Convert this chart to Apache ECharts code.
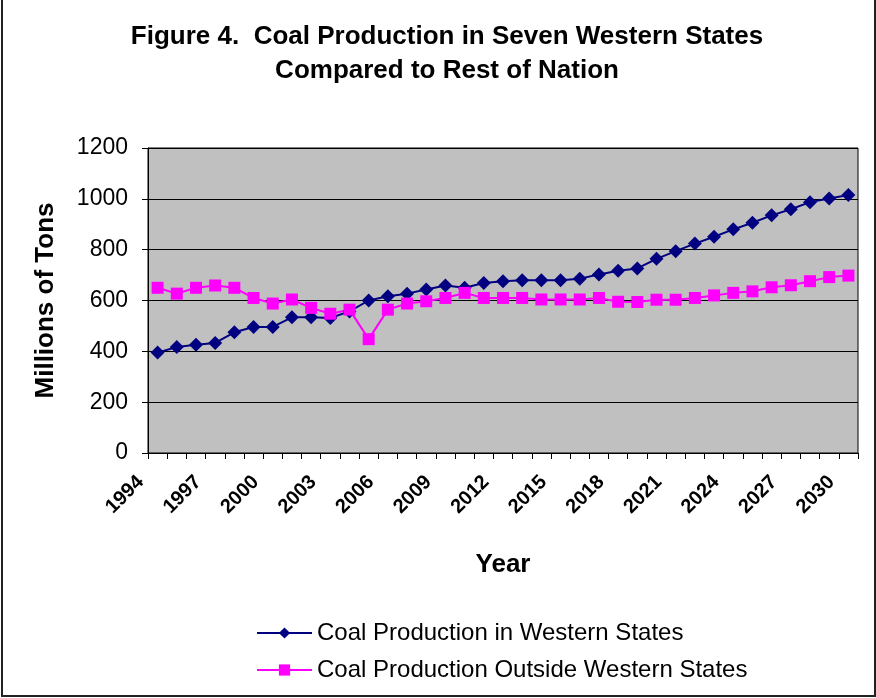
<!DOCTYPE html>
<html>
<head>
<meta charset="utf-8">
<script src="https://cdn.jsdelivr.net/npm/echarts@6/dist/echarts.min.js"></script>
<style>
html,body{margin:0;padding:0;background:#fff;}
#c{width:876px;height:698px;}
</style>
</head>
<body>
<div id="c"></div>
<script>
var years = [];
for (var y = 1994; y <= 2030; y++) years.push(String(y));

var western = [395, 417, 426, 433, 475, 496, 496, 534, 534, 531, 557, 600, 617,
  627, 643, 659, 650, 669, 676, 680, 680, 680, 686, 702, 717,
  726, 764, 794, 824, 851, 880, 906, 935, 959, 987, 1001, 1015];

var outside = [650, 627, 650, 659, 650, 610, 588, 604, 571, 548, 564, 448, 564,
  588, 597, 610, 630, 610, 610, 610, 604, 604, 604, 610, 595,
  594, 603, 603, 610, 620, 630, 636, 652, 660, 676, 692, 698];

var yTicks = [0, 200, 400, 600, 800, 1000, 1200];

var chart = echarts.init(document.getElementById('c'), null, {renderer: 'canvas'});
var font = 'Liberation Sans, Arial, sans-serif';
chart.setOption({
  animation: false,
  backgroundColor: '#ffffff',
  title: {
    text: 'Figure 4.  Coal Production in Seven Western States\nCompared to Rest of Nation',
    left: 442, textAlign: 'center', top: 15,
    textStyle: {fontFamily: font, fontWeight: 'bold', fontSize: 26, color: '#000', lineHeight: 34}
  },
  graphic: [{
    type: 'rect', shape: {x: 2, y: -2, width: 873, height: 698},
    style: {fill: 'none', stroke: '#222', lineWidth: 2}, silent: true
  }],
  grid: {left: 148, right: 18, top: 148, bottom: 245, show: true, backgroundColor: '#c0c0c0', borderColor: '#000', borderWidth: 1},
  legend: {
    orient: 'vertical', left: 256, top: 621, padding: 0, itemWidth: 55, itemHeight: 14, itemGap: 13,
    textStyle: {fontFamily: font, fontSize: 24, color: '#000'},
    data: ['Coal Production in Western States', 'Coal Production Outside Western States']
  },
  xAxis: {
    type: 'category', data: years, boundaryGap: true,
    name: 'Year', nameLocation: 'middle', nameGap: 99,
    nameTextStyle: {fontFamily: font, fontWeight: 'bold', fontSize: 26, color: '#000'},
    axisLine: {lineStyle: {color: '#000', width: 1}},
    axisTick: {show: true, interval: 0, alignWithLabel: false, length: 6, lineStyle: {color: '#000'}},
    axisLabel: {interval: 2, rotate: 45, margin: 9, padding: [0, 24, 0, 0], fontFamily: font, fontWeight: 'bold', fontSize: 20, color: '#000'},
    splitLine: {show: false}
  },
  yAxis: {
    type: 'value', min: yTicks[0], max: yTicks[yTicks.length - 1], interval: 200,
    name: 'Millions of Tons', nameLocation: 'middle', nameGap: 89,
    nameTextStyle: {fontFamily: font, fontWeight: 'bold', fontSize: 26, color: '#000'},
    axisLine: {show: true, lineStyle: {color: '#000', width: 1}},
    axisTick: {show: true, length: 6, lineStyle: {color: '#000'}},
    axisLabel: {margin: 20, fontFamily: font, fontSize: 23, color: '#000', formatter: function (v) { return String(v); }},
    splitLine: {show: true, lineStyle: {color: '#000', width: 1}}
  },
  series: [{
    name: 'Coal Production in Western States', type: 'line', data: western,
    symbol: 'diamond', symbolSize: 14, showAllSymbol: true,
    lineStyle: {color: '#000080', width: 2}, itemStyle: {color: '#000080'}
  }, {
    name: 'Coal Production Outside Western States', type: 'line', data: outside,
    symbol: 'rect', symbolSize: 12, showAllSymbol: true,
    lineStyle: {color: '#ff00ff', width: 2}, itemStyle: {color: '#ff00ff'}
  }]
});
</script>
</body>
</html>
